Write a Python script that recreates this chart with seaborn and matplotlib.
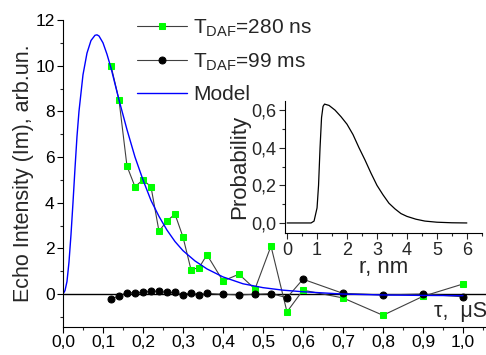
import matplotlib
matplotlib.use("Agg")
import matplotlib.pyplot as plt
import seaborn as sns
from matplotlib.ticker import MultipleLocator, FuncFormatter

# Echo decay data (tau in microseconds)
tau_280 = [0.12, 0.14, 0.16, 0.18, 0.20, 0.22, 0.24, 0.26, 0.28, 0.30, 0.32, 0.34, 0.36,
           0.40, 0.44, 0.48, 0.52, 0.56, 0.60, 0.70, 0.80, 0.90, 1.00]
echo_280 = [10.0, 8.5, 5.6, 4.7, 5.0, 4.7, 2.75, 3.2, 3.5, 2.5, 1.07, 1.15, 1.72,
            0.57, 0.87, 0.22, 2.1, -0.78, 0.17, -0.17, -0.93, -0.1, 0.44]

tau_99 = [0.12, 0.14, 0.16, 0.18, 0.20, 0.22, 0.24, 0.26, 0.28, 0.30, 0.32, 0.34, 0.36,
          0.40, 0.44, 0.48, 0.52, 0.56, 0.60, 0.70, 0.80, 0.90, 1.00]
echo_99 = [-0.22, -0.08, 0.06, 0.06, 0.07, 0.13, 0.12, 0.07, 0.07, -0.04, 0.06, -0.04, 0.03,
           -0.01, -0.04, -0.01, 0.02, -0.16, 0.65, 0.03, -0.04, 0.0, -0.12]

tau_model = [0.0, 0.005, 0.01, 0.015, 0.02, 0.025, 0.03, 0.035, 0.04, 0.05, 0.06, 0.07, 0.08,
             0.085, 0.09, 0.10, 0.11, 0.12, 0.14, 0.16, 0.18, 0.20, 0.22, 0.24, 0.26, 0.28,
             0.30, 0.33, 0.36, 0.40, 0.45, 0.50, 0.55, 0.60, 0.65, 0.70, 0.80, 0.90, 1.00]
echo_model = [0.0, 0.15, 0.55, 1.4, 2.6, 4.0, 5.5, 6.9, 8.0, 9.6, 10.55, 11.1, 11.33,
              11.35, 11.3, 11.0, 10.5, 9.9, 8.5, 7.2, 6.0, 5.0, 4.1, 3.4, 2.8, 2.3,
              1.9, 1.45, 1.1, 0.75, 0.45, 0.28, 0.17, 0.1, 0.05, 0.0, -0.04, -0.06, -0.07]

# Distance distribution (inset)
r_nm = [0.0, 0.8, 0.9, 1.0, 1.05, 1.1, 1.15, 1.2, 1.25, 1.4, 1.6, 1.8, 2.0, 2.2, 2.4, 2.6,
        2.8, 3.0, 3.2, 3.4, 3.6, 3.8, 4.0, 4.3, 4.6, 5.0, 5.5, 6.0]
prob = [0.0, 0.0, 0.01, 0.08, 0.2, 0.4, 0.56, 0.62, 0.632, 0.625, 0.6, 0.565, 0.525, 0.47,
        0.40, 0.335, 0.265, 0.2, 0.15, 0.105, 0.075, 0.05, 0.035, 0.02, 0.01, 0.004, 0.001, 0.0]

sns.set_theme(style="ticks")
plt.rcParams["font.family"] = ["Liberation Sans", "DejaVu Sans"]
plt.rcParams["mathtext.default"] = "regular"

comma = FuncFormatter(lambda v, pos: f"{v:.1f}".replace(".", ","))

fig = plt.figure(figsize=(4.86, 3.55), dpi=100)
ax = fig.add_axes([0.1296, 0.0797, 0.8724, 0.864])

sns.lineplot(x=tau_280, y=echo_280, ax=ax, color="#404040", lw=0.8, marker="s", markersize=5,
             markerfacecolor="#00ff00", markeredgecolor="#00ff00", label=r"T$_{DAF}$=280 ns")
sns.lineplot(x=tau_99, y=echo_99, ax=ax, color="#404040", lw=0.8, marker="o", markersize=5,
             markerfacecolor="black", markeredgecolor="black", label=r"T$_{DAF}$=99 ms")
sns.lineplot(x=tau_model, y=echo_model, ax=ax, color="#0000ff", lw=1.0, label="Model")
ax.axhline(0, color="black", lw=1.0, zorder=0)

ax.set_xlim(0, 1.06)
ax.set_ylim(-1.43, 12.0)
ax.xaxis.set_major_locator(MultipleLocator(0.1))
ax.xaxis.set_minor_locator(MultipleLocator(0.05))
ax.yaxis.set_major_locator(MultipleLocator(2))
ax.yaxis.set_minor_locator(MultipleLocator(1))
ax.xaxis.set_major_formatter(comma)
ax.tick_params(which="major", direction="out", length=4, width=0.8, labelsize=12.5, pad=2,
               colors="black")
ax.tick_params(which="minor", direction="out", length=2.5, width=0.8)
for s in ["top", "right"]:
    ax.spines[s].set_visible(False)
for s in ["left", "bottom"]:
    ax.spines[s].set_color("black")
    ax.spines[s].set_linewidth(0.8)

ax.set_ylabel("Echo Intensity (Im), arb.un.", fontsize=15.5, labelpad=1)
ax.set_xlabel("τ,  μS", fontsize=15.5, ha="right", va="center")
ax.xaxis.set_label_coords(1.0, 0.05)

ax.legend(loc="upper left", bbox_to_anchor=(0.155, 1.035), frameon=False, fontsize=15,
          handlelength=2.4, handletextpad=0.3, labelspacing=0.6, borderaxespad=0)

# inset with distance distribution
ins = fig.add_axes([0.5864, 0.3428, 0.405, 0.3735])
sns.lineplot(x=r_nm, y=prob, ax=ins, color="black", lw=0.9)
ins.set_xlim(-0.07, 6.5)
ins.set_ylim(-0.055, 0.65)
ins.set_facecolor("none")
ins.xaxis.set_major_locator(MultipleLocator(1))
ins.xaxis.set_minor_locator(MultipleLocator(0.5))
ins.yaxis.set_major_locator(MultipleLocator(0.2))
ins.yaxis.set_minor_locator(MultipleLocator(0.1))
ins.yaxis.set_major_formatter(comma)
ins.tick_params(which="major", direction="out", length=4, width=0.8, labelsize=13, pad=2)
ins.tick_params(which="minor", direction="out", length=2.5, width=0.8)
for s in ["top", "right"]:
    ins.spines[s].set_visible(False)
for s in ["left", "bottom"]:
    ins.spines[s].set_color("black")
    ins.spines[s].set_linewidth(0.8)
ins.set_xlabel("r, nm", fontsize=16, labelpad=-1)
ins.set_ylabel("Probability", fontsize=16, labelpad=1)

fig.savefig("out.png", dpi=100)
